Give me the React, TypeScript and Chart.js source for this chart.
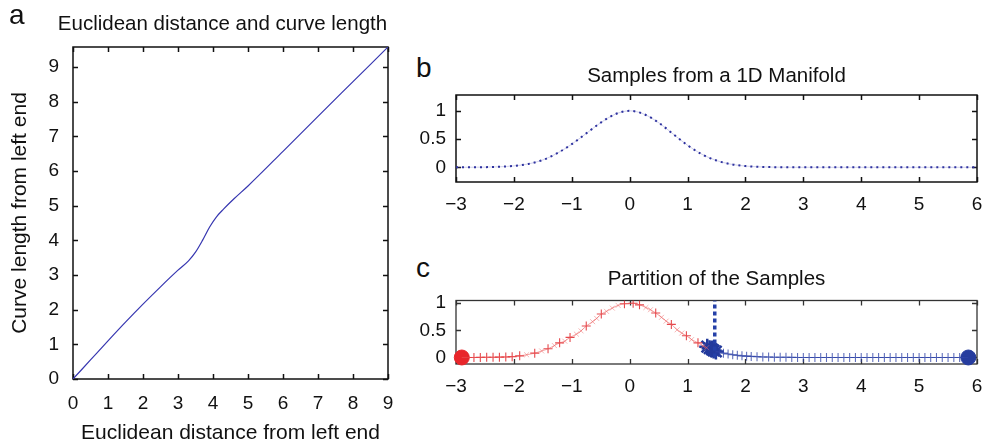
import React, { useEffect, useRef } from "react";
import { Chart, registerables } from "chart.js";

Chart.register(...registerables);

const FONT = '"Liberation Sans", Arial, Helvetica, sans-serif';

// ---------- Panel a: Euclidean distance vs curve length ----------
const A_EUCLID = [0, 0.5, 1, 1.5, 2, 2.5, 3, 3.3, 3.5, 3.7, 3.9, 4.1, 4.3, 4.6, 5, 6, 7, 8, 9];
const A_CURVE = [0, 0.55, 1.1, 1.64, 2.16, 2.66, 3.14, 3.41, 3.66, 4.0, 4.38, 4.68, 4.9, 5.2, 5.57, 6.57, 7.58, 8.58, 9.58];
const A_X_TICKS = [0, 1, 2, 3, 4, 5, 6, 7, 8, 9];
const A_Y_TICKS = [0, 1, 2, 3, 4, 5, 6, 7, 8, 9];

// ---------- Panel b: samples from a 1D manifold ----------
const B_X = [-3, -2.75, -2.5, -2.25, -2, -1.75, -1.5, -1.25, -1, -0.75, -0.5, -0.25, 0, 0.25, 0.5, 0.75, 1, 1.25, 1.5, 1.75, 2, 2.25, 2.5, 2.75, 3, 4, 5, 6];
const B_Y = [0, 0.001, 0.003, 0.009, 0.025, 0.06, 0.13, 0.25, 0.41, 0.6, 0.79, 0.94, 1.0, 0.94, 0.79, 0.59, 0.39, 0.23, 0.12, 0.055, 0.022, 0.008, 0.003, 0.001, 0, 0, 0, 0];
const BC_X_TICKS = [-3, -2, -1, 0, 1, 2, 3, 4, 5, 6];
const BC_Y_TICKS = [0, 0.5, 1];

// ---------- Panel c: partition of the samples ----------
const C_RED_PLUS_X = [-2.8, -2.69, -2.58, -2.47, -2.36, -2.25, -2.14, -2.03, -1.9, -1.64, -1.41, -1.21, -1.03, -0.75, -0.49, -0.09, 0.06, 0.17, 0.45, 0.72, 0.98, 1.18];
const C_RED_PLUS_Y = [0.001, 0.001, 0.002, 0.003, 0.004, 0.006, 0.01, 0.015, 0.03, 0.08, 0.16, 0.27, 0.37, 0.58, 0.8, 0.99, 1.0, 0.97, 0.82, 0.61, 0.4, 0.27];
const C_RED_X_X = [-1.78, -1.52, -1.3, -1.12, -0.92, -0.84, -0.64, -0.57, -0.4, -0.3, -0.2, 0.28, 0.36, 0.55, 0.63, 0.82, 0.9, 1.07, 1.27, 1.33];
const C_RED_X_Y = [0.05, 0.12, 0.22, 0.3, 0.43, 0.49, 0.66, 0.72, 0.85, 0.91, 0.96, 0.92, 0.88, 0.74, 0.67, 0.51, 0.45, 0.33, 0.21, 0.18];
const C_BLUE_X = [1.55, 1.62, 1.7, 1.78, 1.86, 1.94, 2.02, 2.1, 2.2, 2.3, 2.4, 2.5, 2.6, 2.7, 2.8, 2.9, 3.0, 3.1, 3.2, 3.3, 3.4, 3.5, 3.6, 3.7, 3.8, 3.9, 4.0, 4.1, 4.2, 4.3, 4.4, 4.5, 4.6, 4.7, 4.8, 4.9, 5.0, 5.1, 5.2, 5.3, 5.4, 5.5, 5.6, 5.7];
const C_BLUE_Y = [0.1, 0.08, 0.065, 0.05, 0.04, 0.03, 0.025, 0.02, 0.015, 0.01, 0.008, 0.005, 0.004, 0.003, 0.002, 0.001, 0, 0, 0, 0, 0, 0, 0, 0, 0, 0, 0, 0, 0, 0, 0, 0, 0, 0, 0, 0, 0, 0, 0, 0, 0, 0, 0, 0];
const C_STAR_X = [1.34, 1.38, 1.42, 1.45, 1.49];
const C_STAR_Y = [0.2, 0.17, 0.15, 0.13, 0.11];
const C_SPLIT_X = [1.47, 1.47];
const C_SPLIT_Y = [0, 1.05];
const C_END_X = [-2.9, 5.85];
const C_END_Y = [0, 0];

const pts = (xs: number[], ys: number[]) => xs.map((x, i) => ({ x, y: ys[i] }));
const fmt = (v: number) => (v < 0 ? "\u2212" + String(Math.abs(v)) : String(v));

function boxPlugin(color: string, lw: number, len: number) {
  return {
    id: "mbox",
    beforeDatasetsDraw(chart: any) {
      const { ctx, chartArea: a, scales } = chart;
      ctx.save();
      ctx.strokeStyle = color;
      ctx.lineWidth = lw;
      ctx.beginPath();
      for (const t of scales.x.ticks) {
        const px = Math.round(scales.x.getPixelForValue(t.value)) + 0.5;
        ctx.moveTo(px, a.bottom);
        ctx.lineTo(px, a.bottom - len);
        ctx.moveTo(px, a.top);
        ctx.lineTo(px, a.top + len);
      }
      for (const t of scales.y.ticks) {
        const py = Math.round(scales.y.getPixelForValue(t.value)) + 0.5;
        ctx.moveTo(a.left, py);
        ctx.lineTo(a.left + len, py);
        ctx.moveTo(a.right, py);
        ctx.lineTo(a.right - len, py);
      }
      ctx.stroke();
      ctx.strokeRect(a.left, a.top, a.right - a.left, a.bottom - a.top);
      ctx.restore();
    },
  };
}

function axis(
  ticks: number[],
  min: number,
  max: number,
  sizeKey: "width" | "height",
  size: number,
  pad: number,
  title?: any
) {
  return {
    type: "linear",
    min,
    max,
    grid: { display: false, drawTicks: false },
    border: { display: false },
    ticks: {
      padding: pad,
      font: { family: FONT, size: 19 },
      color: "#111",
      autoSkip: false,
      maxRotation: 0,
      callback: (v: any) => fmt(Number(v)),
    },
    afterBuildTicks: (s: any) => {
      s.ticks = ticks.map((v) => ({ value: v }));
    },
    afterFit: (s: any) => {
      s[sizeKey] = size;
      s.paddingTop = 0;
      s.paddingBottom = 0;
      s.paddingLeft = 0;
      s.paddingRight = 0;
    },
    title: title || { display: false },
  };
}

const baseOpts = (padding: any) => ({
  responsive: false,
  animation: false,
  devicePixelRatio: 1,
  layout: { padding },
  plugins: { legend: { display: false }, tooltip: { enabled: false }, title: { display: false } },
});

function makeA() {
  return {
    type: "scatter",
    data: {
      datasets: [
        {
          data: pts(A_EUCLID, A_CURVE),
          showLine: true,
          borderColor: "#3636b0",
          borderWidth: 1.2,
          pointRadius: 0,
          cubicInterpolationMode: "monotone",
        },
      ],
    },
    options: {
      ...baseOpts({ left: 0, right: 22, top: 47, bottom: 0 }),
      scales: {
        x: axis(A_X_TICKS, 0, 9, "height", 68, 13, {
          display: true,
          text: "Euclidean distance from left end",
          font: { family: FONT, size: 21 },
          color: "#111",
          padding: { top: 0, bottom: 1 },
        }),
        y: axis(A_Y_TICKS, 0, 9.58, "width", 73, 14, {
          display: true,
          text: "Curve length from left end",
          font: { family: FONT, size: 21 },
          color: "#111",
          padding: { top: 8, bottom: 0 },
        }),
      },
    },
    plugins: [boxPlugin("#111", 1.5, 5)],
  };
}

function makeB() {
  return {
    type: "scatter",
    data: {
      datasets: [
        {
          data: pts(B_X, B_Y),
          showLine: true,
          borderColor: "rgba(70,70,180,0.25)",
          borderWidth: 1,
          pointRadius: 0,
          cubicInterpolationMode: "monotone",
        },
        {
          data: pts(B_X, B_Y),
          showLine: true,
          borderColor: "#2a2f9c",
          borderWidth: 2,
          borderDash: [2, 4],
          pointRadius: 0,
          cubicInterpolationMode: "monotone",
        },
      ],
    },
    options: {
      ...baseOpts({ left: 0, right: 11, top: 10, bottom: 0 }),
      scales: {
        x: axis(BC_X_TICKS, -3, 6, "height", 53, 11),
        y: axis(BC_Y_TICKS, -0.26, 1.28, "width", 56, 10),
      },
    },
    plugins: [boxPlugin("#111", 1.5, 5)],
  };
}

function makeC() {
  const redLine = pts(C_RED_PLUS_X, C_RED_PLUS_Y)
    .concat(pts(C_RED_X_X, C_RED_X_Y))
    .concat([{ x: C_END_X[0], y: C_END_Y[0] }])
    .sort((p, q) => p.x - q.x);
  const blueLine = [{ x: C_STAR_X[C_STAR_X.length - 1], y: C_STAR_Y[C_STAR_Y.length - 1] }]
    .concat(pts(C_BLUE_X, C_BLUE_Y))
    .concat([{ x: C_END_X[1], y: C_END_Y[1] }]);
  return {
    type: "scatter",
    data: {
      datasets: [
        {
          data: redLine,
          showLine: true,
          borderColor: "rgba(235,90,90,0.55)",
          borderWidth: 1,
          pointRadius: 0,
          cubicInterpolationMode: "monotone",
        },
        {
          data: blueLine,
          showLine: true,
          borderColor: "rgba(50,70,170,0.6)",
          borderWidth: 1,
          pointRadius: 0,
        },
        {
          data: pts(C_RED_X_X, C_RED_X_Y),
          pointStyle: "crossRot",
          pointRadius: 3.5,
          pointBorderColor: "rgba(240,110,110,0.5)",
          pointBorderWidth: 1,
          showLine: false,
        },
        {
          data: pts(C_RED_PLUS_X, C_RED_PLUS_Y),
          pointStyle: "cross",
          pointRadius: 4.5,
          pointBorderColor: "rgba(225,40,45,0.85)",
          pointBorderWidth: 1.1,
          showLine: false,
        },
        {
          data: pts(C_BLUE_X, C_BLUE_Y),
          pointStyle: "cross",
          pointRadius: 4.5,
          pointBorderColor: "rgba(45,65,165,0.75)",
          pointBorderWidth: 1.1,
          showLine: false,
        },
        {
          data: pts(C_SPLIT_X, C_SPLIT_Y),
          showLine: true,
          borderColor: "#2540a8",
          borderWidth: 3.5,
          borderDash: [4, 3],
          pointRadius: 0,
        },
        {
          data: pts(C_STAR_X, C_STAR_Y),
          pointStyle: "star",
          pointRadius: 8,
          pointBorderColor: "#233a9c",
          pointBorderWidth: 2.5,
          showLine: false,
        },
        {
          data: [{ x: C_END_X[0], y: C_END_Y[0] }],
          pointStyle: "circle",
          pointRadius: 7.5,
          pointBackgroundColor: "#e8262b",
          pointBorderColor: "#e8262b",
          showLine: false,
          clip: false,
        },
        {
          data: [{ x: C_END_X[1], y: C_END_Y[1] }],
          pointStyle: "circle",
          pointRadius: 7.5,
          pointBackgroundColor: "#263c9e",
          pointBorderColor: "#263c9e",
          showLine: false,
          clip: false,
        },
      ],
    },
    options: {
      ...baseOpts({ left: 0, right: 11, top: 6, bottom: 0 }),
      scales: {
        x: axis(BC_X_TICKS, -3, 6, "height", 83, 11),
        y: axis(BC_Y_TICKS, -0.12, 1.05, "width", 56, 10),
      },
    },
    plugins: [boxPlugin("#333", 1.3, 5)],
  };
}

function ChartCanvas(props: { make: () => any; left: number; top: number; width: number; height: number }) {
  const ref = useRef<HTMLCanvasElement>(null);
  useEffect(() => {
    const chart = new Chart(ref.current as HTMLCanvasElement, props.make());
    return () => chart.destroy();
  }, []);
  return (
    <canvas
      ref={ref}
      width={props.width}
      height={props.height}
      style={{ position: "absolute", left: props.left, top: props.top, width: props.width, height: props.height }}
    />
  );
}

const textStyle = (left: number, top: number, size: number, extra: any = {}) => ({
  position: "absolute" as const,
  left,
  top,
  fontSize: size,
  lineHeight: 1,
  fontFamily: FONT,
  color: "#111",
  whiteSpace: "nowrap" as const,
  ...extra,
});

export default function App() {
  return (
    <div style={{ position: "absolute", left: 0, top: 0, width: 988, height: 447, background: "#fff", overflow: "hidden" }}>
      <ChartCanvas make={makeA} left={0} top={0} width={410} height={447} />
      <ChartCanvas make={makeB} left={400} top={85} width={588} height={150} />
      <ChartCanvas make={makeC} left={400} top={290} width={588} height={157} />
      <div style={textStyle(9, 1, 28)}>a</div>
      <div style={textStyle(416, 54, 28)}>b</div>
      <div style={textStyle(416, 254, 28)}>c</div>
      <div style={textStyle(0, 13.3, 20.5, { width: 445, textAlign: "center" })}>Euclidean distance and curve length</div>
      <div style={textStyle(400, 65, 20.5, { width: 633, textAlign: "center" })}>Samples from a 1D Manifold</div>
      <div style={textStyle(400, 268, 20.5, { width: 633, textAlign: "center" })}>Partition of the Samples</div>
    </div>
  );
}
